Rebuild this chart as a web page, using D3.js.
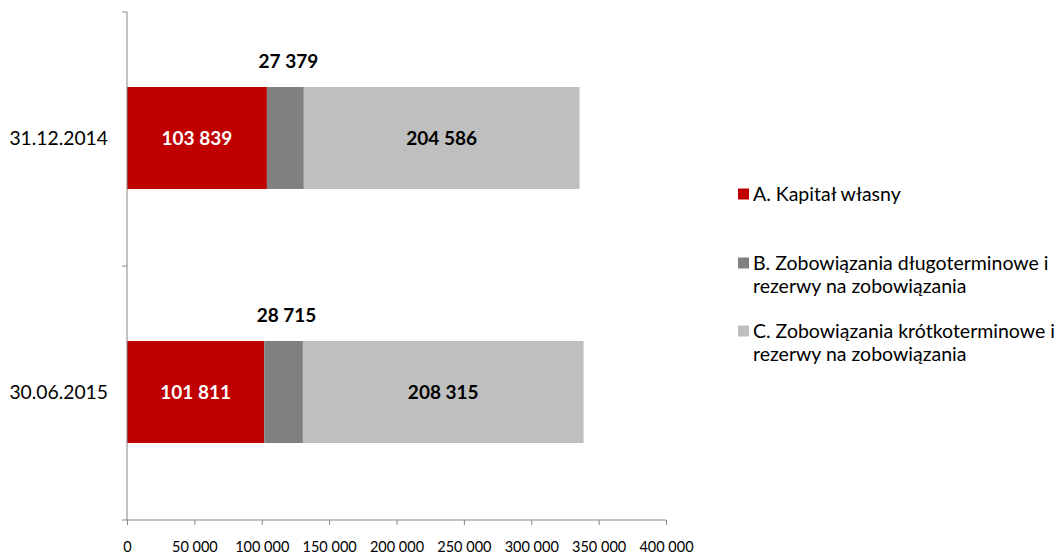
<!DOCTYPE html>
<html>
<head>
<meta charset="utf-8">
<script src="https://cdn.jsdelivr.net/npm/d3@7"></script>
<style>
  html, body { margin: 0; padding: 0; background: #fff; }
  svg { display: block; font-family: Lato, "Open Sans", sans-serif; }
</style>
</head>
<body>
<svg id="chart" width="1063" height="556"></svg>
<script>
const categories = ["31.12.2014", "30.06.2015"];
const seriesNames = [
  "A. Kapitał własny",
  "B. Zobowiązania długoterminowe i rezerwy na zobowiązania",
  "C. Zobowiązania krótkoterminowe i rezerwy na zobowiązania"
];
const legendLines = [
  ["A. Kapitał własny"],
  ["B. Zobowiązania długoterminowe i", "rezerwy na zobowiązania"],
  ["C. Zobowiązania krótkoterminowe i", "rezerwy na zobowiązania"]
];
const kapitalWlasny = [103839, 101811];
const zobDlugoterminowe = [27379, 28715];
const zobKrotkoterminowe = [204586, 208315];
const xTicks = [0, 50000, 100000, 150000, 200000, 250000, 300000, 350000, 400000];
const colors = ["#C00000", "#808080", "#BFBFBF"];

const svg = d3.select("#chart");
const x = d3.scaleLinear().domain([0, 400000]).range([127, 666]);
const y = d3.scaleBand().domain(categories).range([12, 520]).padding(0);
const barH = 102;

const fmt = v => d3.format(",")(v).replace(/,/g, " ");

const rows = categories.map((c, i) => ({ cat: c, vals: [kapitalWlasny[i], zobDlugoterminowe[i], zobKrotkoterminowe[i]] }));
const stack = d3.stack().keys([0, 1, 2]).value((d, k) => d.vals[k]);
const stacked = stack(rows);

const g = svg.append("g");
stacked.forEach((layer, k) => {
  g.selectAll(null).data(layer).enter().append("rect")
    .attr("x", d => x(d[0]))
    .attr("width", d => x(d[1]) - x(d[0]))
    .attr("y", d => y(d.data.cat) + y.bandwidth() / 2 - barH / 2 - 1)
    .attr("height", barH)
    .attr("fill", colors[k]);
});

// labels
stacked.forEach((layer, k) => {
  g.selectAll(null).data(layer).enter().append("text")
    .attr("x", d => (x(d[0]) + x(d[1])) / 2 + (k === 1 ? 3 : 0))
    .attr("y", d => {
      const cy = y(d.data.cat) + y.bandwidth() / 2 - 1;
      return k === 1 ? cy - barH / 2 - 26 : cy;
    })
    .attr("dy", "0.35em")
    .attr("text-anchor", "middle")
    .attr("font-weight", "bold")
    .attr("font-size", 19)
    .attr("fill", k === 0 ? "#fff" : "#000")
    .text((d, i) => fmt(d.data.vals[k]));
});

// x axis
const xAxis = d3.axisBottom(x).tickValues(xTicks).tickFormat(fmt).tickSize(5).tickPadding(17);
const xg = svg.append("g").attr("transform", "translate(0,520)").call(xAxis);
xg.select(".domain").attr("stroke", "#868686").attr("d", "M127,0H666");
xg.selectAll(".tick line").attr("stroke", "#868686");
xg.selectAll(".tick text").attr("font-size", 14.5).attr("fill", "#000").attr("font-family", "Lato, sans-serif");

// y axis
const yg = svg.append("g");
yg.append("line").attr("x1", 127).attr("x2", 127).attr("y1", 12).attr("y2", 520).attr("stroke", "#868686");
yg.selectAll(null).data(y.domain().concat(["end"])).enter().append("line")
  .attr("x1", 122).attr("x2", 127)
  .attr("y1", (d, i) => i < categories.length ? y(d) : y.range()[1])
  .attr("y2", (d, i) => i < categories.length ? y(d) : y.range()[1])
  .attr("stroke", "#868686");
yg.selectAll(null).data(categories).enter().append("text")
  .attr("x", 108).attr("y", d => y(d) + y.bandwidth() / 2 - 1)
  .attr("dy", "0.35em").attr("text-anchor", "end")
  .attr("font-size", 19.3).attr("fill", "#000")
  .text(d => d);

// legend
const legendY = [194, 263, 331];
const lg = svg.append("g");
legendLines.forEach((lines, k) => {
  lg.append("rect").attr("x", 738).attr("y", legendY[k] - 5.5).attr("width", 11).attr("height", 11).attr("fill", colors[k]);
  lines.forEach((t, j) => {
    lg.append("text").attr("x", 753).attr("y", legendY[k] + j * 23)
      .attr("dy", "0.35em").attr("font-size", 19.5).attr("fill", "#000").text(t);
  });
});
</script>
</body>
</html>
